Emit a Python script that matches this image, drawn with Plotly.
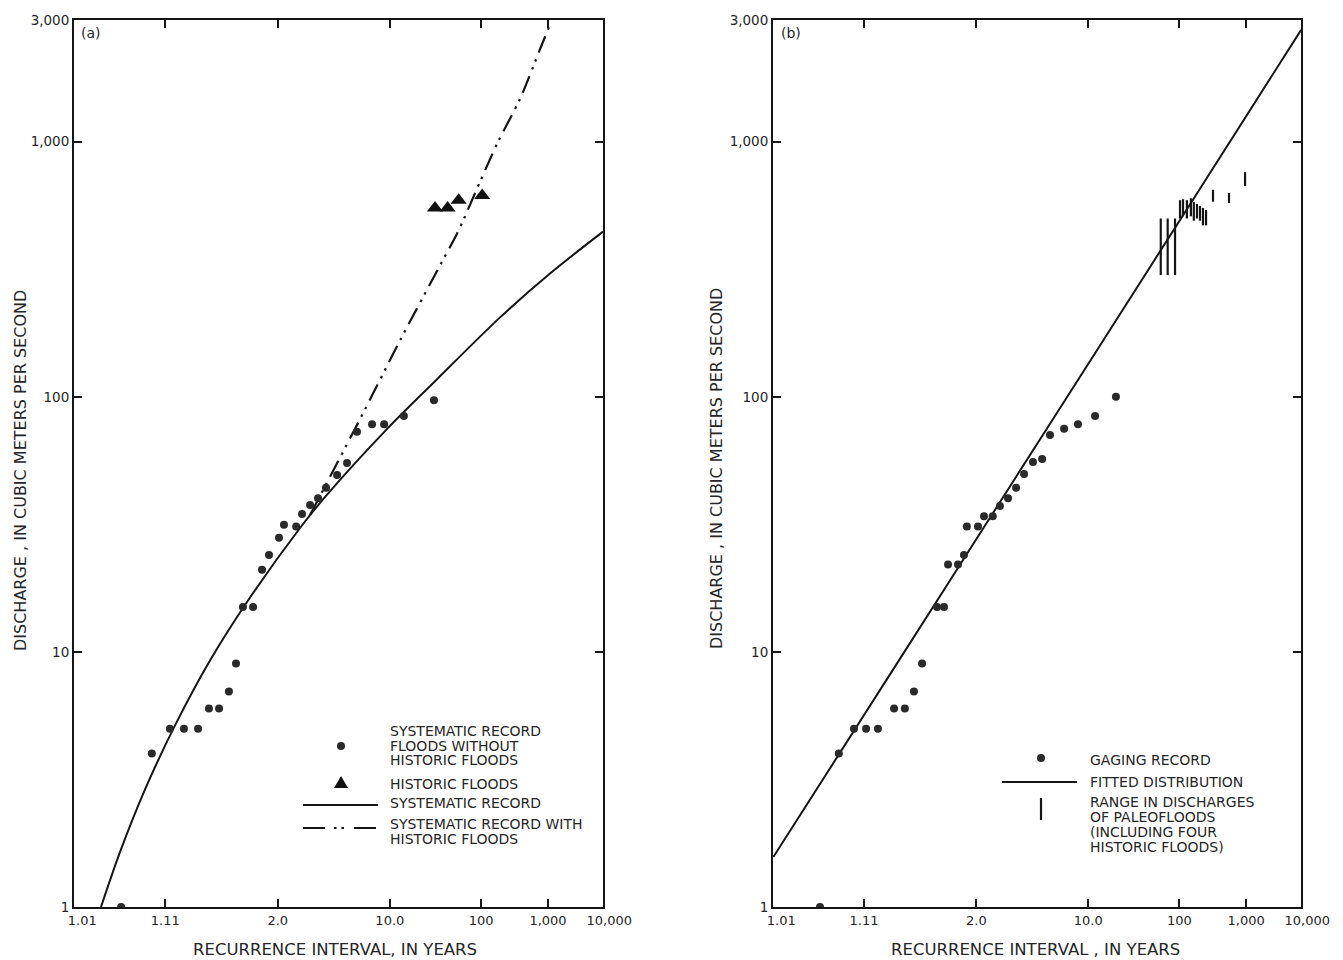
import math
import statistics
import plotly.graph_objects as go

# ---------------- data ----------------
# x tick labels (recurrence interval, years)
tick_T = [1.01, 1.11, 2.0, 10.0, 100, 1000, 10000]
tick_text = ["    1.01", "1.11", "2.0", "10.0", "100", "1,000", "   10,000"]
ytick_vals = [1, 10, 100, 1000, 3000]
ytick_text = ["1", "10", "100", "1,000", "3,000"]

# Panel (a): systematic record floods without historic floods
a_sys_T = [1.038, 1.081, 1.122, 1.165, 1.221, 1.275, 1.335, 1.405, 1.463, 1.527,
           1.636, 1.75, 1.852, 2.023, 2.12, 2.40, 2.56, 2.81, 3.10, 3.44,
           4.02, 4.67, 5.48, 7.12, 8.93, 13.4, 27.0]
a_sys_Q = [1.0, 4.0, 5.0, 5.0, 5.0, 6.0, 6.0, 7.0, 9.0, 15.0,
           15.0, 21.0, 24.0, 28.0, 31.5, 31.0, 34.7, 37.7, 40.0, 44.0,
           49.4, 55.0, 73.0, 78.0, 78.0, 84.0, 97.0]
# Panel (a): historic floods
a_hist_T = [27.7, 38.4, 51.8, 103.0]
a_hist_Q = [550.0, 550.0, 590.0, 615.0]
# Panel (a): fitted curve, systematic record
a_fit_T = [1.0221, 1.0369, 1.0690, 1.1364, 1.2807, 1.5795, 2.5025, 3.441, 9.09,
           27.0, 181.5, 1080.0, 10000.0]
a_fit_Q = [1.0, 1.64, 2.89, 5.15, 9.25, 15.9, 30.6, 40.9, 73.4,
           114.0, 204.8, 304.3, 444.0]
# Panel (a): fitted curve, systematic record with historic floods
a_fith_T = [2.808, 5.76, 12.35, 31.4, 50.9, 96.5, 170.0, 357.0, 740.0, 1124.0]
a_fith_Q = [34.4, 81.7, 166.4, 327.0, 444.0, 697.0, 1000.0, 1472.0, 2309.0, 2943.0]

# Panel (b): gaging record
b_gage_T = [1.038, 1.061, 1.0875, 1.115, 1.149, 1.209, 1.26, 1.311, 1.364, 1.484,
            1.551, 1.594, 1.714, 1.797, 1.84, 2.03, 2.15, 2.35, 2.54, 2.79,
            3.08, 3.42, 3.87, 4.43, 5.01, 6.35, 8.18, 11.5, 18.2]
b_gage_Q = [1.0, 4.0, 5.0, 5.0, 5.0, 6.0, 6.0, 7.0, 9.0, 15.0,
            15.0, 22.0, 22.0, 24.0, 31.0, 31.0, 34.0, 34.0, 37.3, 40.0,
            44.0, 49.8, 55.5, 57.0, 70.8, 75.0, 78.0, 84.0, 100.0]
# Panel (b): fitted distribution
b_fit_T = [1.0101, 1.236, 2.543, 12.76, 192.0, 10000.0]
b_fit_Q = [1.57, 9.41, 38.7, 159.0, 654.0, 2740.0]
# Panel (b): range in discharges of paleofloods
b_paleo_T = [57.7, 70.4, 87.5, 101.8, 111.6, 126, 143, 157, 174, 192, 212, 235, 298, 526, 960]
b_paleo_lo = [300, 300, 300, 500, 510, 500, 510, 490, 500, 490, 470, 470, 582, 575, 670]
b_paleo_hi = [500, 500, 500, 590, 595, 590, 600, 580, 570, 560, 550, 540, 648, 630, 760]

# ---------------- helpers ----------------
ND = statistics.NormalDist()


def zT(T):
    """normal-probability position of a recurrence interval"""
    return ND.inv_cdf(1.0 - 1.0 / T)


W, H = 1343, 960


def PX(x):
    return x / W


def PY(y):
    return 1 - y / H


INK = "#151515"
TXT = "#262626"
FONT = "DejaVu Sans"

fig = go.Figure()

# ---- panel (a) ----
fig.add_trace(go.Scatter(x=[zT(t) for t in a_fit_T], y=a_fit_Q, mode="lines",
                         line=dict(color=INK, width=2, shape="spline", smoothing=0.9),
                         xaxis="x", yaxis="y", showlegend=False))
fig.add_trace(go.Scatter(x=[zT(t) for t in a_fith_T], y=a_fith_Q, mode="lines",
                         line=dict(color=INK, width=2.2, shape="spline", smoothing=0.8,
                                   dash="18px,7px,2.5px,6px,2.5px,7px"),
                         xaxis="x", yaxis="y", showlegend=False))
fig.add_trace(go.Scatter(x=[zT(t) for t in a_sys_T], y=a_sys_Q, mode="markers",
                         marker=dict(color="#2a2a2a", size=8, symbol="circle"),
                         xaxis="x", yaxis="y", showlegend=False))
fig.add_trace(go.Scatter(x=[zT(t) for t in a_hist_T], y=a_hist_Q, mode="markers",
                         marker=dict(color="#111", size=14, symbol="triangle-up"),
                         xaxis="x", yaxis="y", showlegend=False))

# ---- panel (b) ----
fig.add_trace(go.Scatter(x=[zT(t) for t in b_fit_T], y=b_fit_Q, mode="lines",
                         line=dict(color=INK, width=2, shape="spline", smoothing=0.8),
                         xaxis="x2", yaxis="y2", showlegend=False))
fig.add_trace(go.Scatter(x=[zT(t) for t in b_gage_T], y=b_gage_Q, mode="markers",
                         marker=dict(color="#2a2a2a", size=8, symbol="circle"),
                         xaxis="x2", yaxis="y2", showlegend=False))
px_, py_ = [], []
for t, lo, hi in zip(b_paleo_T, b_paleo_lo, b_paleo_hi):
    px_ += [zT(t), zT(t), None]
    py_ += [lo, hi, None]
fig.add_trace(go.Scatter(x=px_, y=py_, mode="lines",
                         line=dict(color=INK, width=2.2),
                         xaxis="x2", yaxis="y2", showlegend=False))

# ---------------- axes ----------------
xr = [zT(1.01), zT(10000)]
common_x = dict(range=xr, tickvals=[zT(t) for t in tick_T], ticktext=tick_text,
                ticks="inside", ticklen=8, tickwidth=1.5, tickcolor=INK,
                showline=True, linewidth=2, linecolor=INK, mirror="ticks",
                showgrid=False, zeroline=False, automargin=False,
                tickfont=dict(family=FONT, size=13, color=TXT))
common_y = dict(type="log", range=[0, math.log10(3000)], tickvals=ytick_vals,
                ticktext=ytick_text, ticks="inside", ticklen=8, tickwidth=1.5,
                tickcolor=INK, showline=True, linewidth=2, linecolor=INK,
                mirror="ticks", showgrid=False, zeroline=False, automargin=False,
                tickfont=dict(family=FONT, size=13.5, color=TXT),
                domain=[PY(907), PY(20)])

fig.update_layout(
    width=W, height=H,
    margin=dict(l=0, r=0, t=0, b=0, pad=0, autoexpand=False),
    paper_bgcolor="white", plot_bgcolor="white", showlegend=False,
    xaxis=dict(domain=[PX(74), PX(603)], anchor="y", **common_x),
    yaxis=dict(anchor="x", **common_y),
    xaxis2=dict(domain=[PX(773), PX(1301)], anchor="y2", **common_x),
    yaxis2=dict(anchor="x2", **common_y),
)

ann = []


def text(x, y, s, size=14, angle=0, anchor="left"):
    ann.append(dict(x=PX(x), y=PY(y), xref="paper", yref="paper", text=s,
                    showarrow=False, xanchor=anchor, yanchor="middle",
                    textangle=angle, font=dict(family=FONT, size=size, color=TXT)))


# panel labels
text(79, 33, "(a)", 14)
text(779, 33, "(b)", 14)
# axis titles
text(335, 949, "RECURRENCE INTERVAL, IN YEARS", 16.5, anchor="center")
text(1035, 949, "RECURRENCE INTERVAL , IN YEARS", 16.5, anchor="center")
text(20, 471, "DISCHARGE , IN CUBIC METERS PER SECOND", 16, angle=-90, anchor="center")
text(716, 469, "DISCHARGE , IN CUBIC METERS PER SECOND", 16, angle=-90, anchor="center")

# legend (a)
LS = 14
text(388, 731, "SYSTEMATIC RECORD", LS)
text(388, 745.5, "FLOODS WITHOUT", LS)
text(388, 760, "HISTORIC FLOODS", LS)
text(388, 784, "HISTORIC FLOODS", LS)
text(388, 803, "SYSTEMATIC RECORD", LS)
text(388, 824, "SYSTEMATIC RECORD WITH", LS)
text(388, 838.5, "HISTORIC FLOODS", LS)
# legend (b)
text(1088, 760, "GAGING RECORD", LS)
text(1088, 782, "FITTED DISTRIBUTION", LS)
text(1088, 802, "RANGE IN DISCHARGES", LS)
text(1088, 816.5, "OF PALEOFLOODS", LS)
text(1088, 832, "(INCLUDING FOUR", LS)
text(1088, 846.5, "HISTORIC FLOODS)", LS)

shapes = [
    dict(type="circle", xref="paper", yref="paper", x0=PX(337), x1=PX(345),
         y0=PY(750), y1=PY(742), fillcolor="#2a2a2a", line=dict(width=0)),
    dict(type="path", xref="paper", yref="paper",
         path=f"M {PX(334)} {PY(788)} L {PX(348)} {PY(788)} L {PX(341)} {PY(776)} Z",
         fillcolor="#111", line=dict(width=0)),
    dict(type="line", xref="paper", yref="paper", x0=PX(303), x1=PX(378),
         y0=PY(805), y1=PY(805), line=dict(color=INK, width=2)),
    dict(type="line", xref="paper", yref="paper", x0=PX(303), x1=PX(378),
         y0=PY(828), y1=PY(828),
         line=dict(color=INK, width=2.2, dash="22px,9px,2.5px,5px,2.5px,10px")),
    dict(type="circle", xref="paper", yref="paper", x0=PX(1037), x1=PX(1045),
         y0=PY(762), y1=PY(754), fillcolor="#2a2a2a", line=dict(width=0)),
    dict(type="line", xref="paper", yref="paper", x0=PX(1002), x1=PX(1077),
         y0=PY(782), y1=PY(782), line=dict(color=INK, width=2)),
    dict(type="line", xref="paper", yref="paper", x0=PX(1041), x1=PX(1041),
         y0=PY(798), y1=PY(820), line=dict(color=INK, width=2.2)),
]
fig.update_layout(annotations=ann, shapes=shapes)

fig.write_html("out.html", config={"displayModeBar": False},
               post_script="document.body.style.margin='0px';"
                           "document.body.style.overflow='hidden';")
